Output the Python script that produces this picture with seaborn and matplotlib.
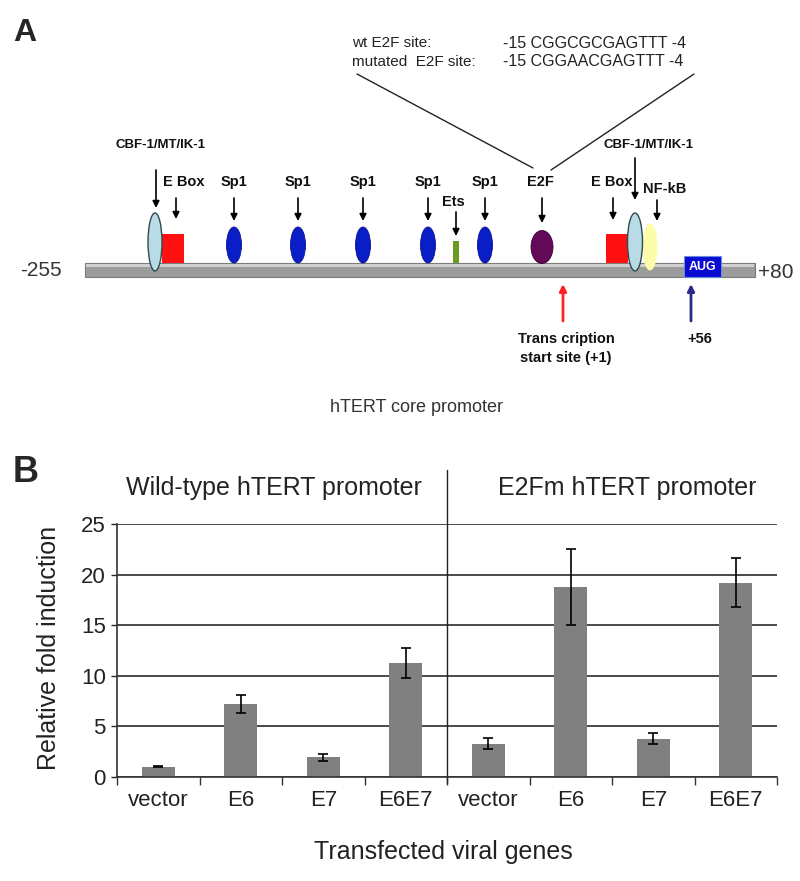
import numpy as np
import pandas as pd
import matplotlib
matplotlib.use("Agg")
import matplotlib.pyplot as plt
import seaborn as sns
from matplotlib.patches import Ellipse, Rectangle

# ---------------- data (panel B) ----------------
group_titles = ["Wild-type hTERT promoter", "E2Fm hTERT promoter"]
genes = ["vector", "E6", "E7", "E6E7"]
wt_values = [1.0, 7.2, 1.95, 11.25]
wt_errors = [0.05, 0.9, 0.35, 1.5]
mut_values = [3.3, 18.8, 3.8, 19.2]
mut_errors = [0.55, 3.75, 0.5, 2.45]
y_ticks = [0, 5, 10, 15, 20, 25]
x_title = "Transfected viral genes"
y_title = "Relative fold induction"

# ---------------- text (panel A) ----------------
e2f_site_labels = ["wt E2F site:", "mutated  E2F site:"]
e2f_site_seqs = ["-15 CGGCGCGAGTTT -4", "-15 CGGAACGAGTTT -4"]
sp1_label = "Sp1"
cbf_label = "CBF-1/MT/IK-1"
ebox_label = "E Box"
promoter_ends = ["-255", "+80"]
promoter_title = "hTERT core promoter"

sns.set_style("ticks")
plt.rcParams["font.family"] = ["Liberation Sans", "DejaVu Sans"]

W, H = 800, 881
fig = plt.figure(figsize=(W / 100, H / 100), dpi=100)

# ======================= Panel A (diagram, pixel layout) =======================
axA = fig.add_axes([0, 431 / H, 1, 450 / H])
axA.set_xlim(0, 800)
axA.set_ylim(450, 0)
axA.axis("off")

axA.text(25, 33, "A", fontsize=23, fontweight="bold", ha="center", va="center")

# E2F site sequences
for i, (lab, seq) in enumerate(zip(e2f_site_labels, e2f_site_seqs)):
    yy = 43 + i * 19
    axA.text(352, yy, lab, fontsize=11, ha="left", va="center", color="#222222")
    axA.text(503, yy, seq, fontsize=11.5, ha="left", va="center", color="#222222")
axA.plot([357, 533], [74, 168], color="#222222", lw=1.0)
axA.plot([694, 551], [74, 170], color="#222222", lw=1.0)

# promoter bar
axA.add_patch(Rectangle((85, 263), 670, 14, fc="#9c9c9c", ec="#7c7c7c", lw=0.8, zorder=1))
axA.add_patch(Rectangle((86, 264), 668, 3, fc="#cfcfcf", lw=0, zorder=1))
axA.text(41, 271, promoter_ends[0], fontsize=15, ha="center", va="center", color="#333333")
axA.text(776, 273, promoter_ends[1], fontsize=15, ha="center", va="center", color="#333333")


def arrow(x, y0, y1, color="black", lw=1.2, ms=10):
    axA.annotate("", xy=(x, y1), xytext=(x, y0),
                 arrowprops=dict(arrowstyle="-|>", color=color, lw=lw,
                                 mutation_scale=ms, shrinkA=0, shrinkB=0))


lab_kw = dict(fontsize=10.5, fontweight="bold", ha="center", va="center", color="#111111")

# left CBF / E box
axA.text(161, 145, cbf_label, **dict(lab_kw, fontsize=9.5))
arrow(156, 170, 208)
axA.text(184, 182, ebox_label, **lab_kw)
arrow(176, 198, 219)
axA.add_patch(Rectangle((162, 234), 22, 29, fc="#ff1010", lw=0, zorder=2))
axA.add_patch(Ellipse((155, 242), 14, 58, fc="#b9dbe6", ec="#2f4a50", lw=1.0, zorder=3))

# Sp1 sites
for x in [234, 298, 363, 428, 485]:
    axA.text(x, 182, sp1_label, **lab_kw)
    arrow(x, 198, 221)
    axA.add_patch(Ellipse((x, 245), 15, 36, fc="#0a1ec8", ec="#0a1490", lw=0.6, zorder=2))

# Ets
axA.text(453, 202, "Ets", **lab_kw)
arrow(456, 212, 236)
axA.add_patch(Rectangle((453, 241), 6, 22, fc="#6a9a22", lw=0, zorder=2))

# E2F
axA.text(540, 182, "E2F", **lab_kw)
arrow(542, 198, 223)
axA.add_patch(Ellipse((542, 247), 22, 33, fc="#620a58", ec="#420040", lw=0.6, zorder=2))

# right E box / CBF / NF-kB
axA.text(612, 182, ebox_label, **lab_kw)
arrow(613, 198, 220)
axA.add_patch(Rectangle((606, 234), 22, 29, fc="#ff1010", lw=0, zorder=2))
axA.text(648, 145, cbf_label, **dict(lab_kw, fontsize=9.5))
arrow(635, 158, 200)
axA.text(665, 189, "NF-kB", **lab_kw)
arrow(657, 200, 221)
axA.add_patch(Ellipse((650, 247), 15, 47, fc="#fdfca8", lw=0, zorder=2))
axA.add_patch(Ellipse((635, 242), 15, 58, fc="#b9dbe6", ec="#2f4a50", lw=1.0, zorder=3))

# AUG
axA.add_patch(Rectangle((684, 256), 37, 21, fc="#0a0ad2", ec="#6a8ae0", lw=0.8, zorder=3))
axA.text(702.5, 266.5, "AUG", fontsize=9, fontweight="bold", color="white",
         ha="center", va="center", zorder=4)

# transcription start / +56
arrow(563, 321, 284, color="#ff2020", lw=2.0, ms=10)
arrow(691, 321, 284, color="#2a2a8a", lw=2.0, ms=10)
axA.text(566, 339, "Trans cription", **lab_kw)
axA.text(566, 358, "start site (+1)", **lab_kw)
axA.text(700, 339, "+56", **lab_kw)

axA.text(416, 407, promoter_title, fontsize=13, ha="center", va="center", color="#333333")

# ======================= Panel B (bar chart) =======================
conds = [f"wt {g}" for g in genes] + [f"mut {g}" for g in genes]
values = wt_values + mut_values
errors = wt_errors + mut_errors
df = pd.DataFrame({"condition": conds, "fold": values, "err": errors})

axB = fig.add_axes([117 / W, (H - 777) / H, 660 / W, 253 / H])
sns.barplot(data=df, x="condition", y="fold", order=conds, color="#808080",
            saturation=1, width=0.4, errorbar=None, linewidth=0, ax=axB)
axB.errorbar(np.arange(len(conds)), df["fold"], yerr=df["err"], fmt="none",
             ecolor="black", elinewidth=1.2, capsize=3.6, capthick=1.2, zorder=4)

axB.set_axisbelow(True)
axB.yaxis.grid(True, color="#3a3a3a", lw=1.3)
axB.set_ylim(0, 25)
axB.set_yticks(y_ticks)
axB.set_xlim(-0.5, len(conds) - 0.5)
axB.set_xticks(np.arange(-0.5, len(conds)), labels=[""] * (len(conds) + 1))
axB.set_xticks(np.arange(len(conds)), labels=genes + genes, minor=True)
axB.tick_params(axis="x", which="major", length=6, width=1.0, color="#333333")
axB.tick_params(axis="x", which="minor", length=0, labelsize=16, pad=9, labelcolor="#222222")
axB.tick_params(axis="y", length=4, width=1.0, labelsize=16, pad=4, labelcolor="#222222")
axB.set_xlabel("")
axB.set_ylabel("")
for s in ["top", "right"]:
    axB.spines[s].set_visible(False)
for s in ["left", "bottom"]:
    axB.spines[s].set_color("#333333")
    axB.spines[s].set_linewidth(1.2)

# divider between promoter groups
axB.axvline(len(genes) - 0.5, ymin=-0.025, ymax=1.215, color="#222222", lw=1.0, clip_on=False)

fig.text(274 / W, 1 - 495 / H, group_titles[0], fontsize=18, ha="center", va="baseline", color="#222222")
fig.text(627 / W, 1 - 495 / H, group_titles[1], fontsize=18, ha="center", va="baseline", color="#222222")
fig.text(49 / W, 1 - 648 / H, y_title, fontsize=18, rotation=90, ha="center", va="center", color="#222222")
fig.text(443 / W, 1 - 852 / H, x_title, fontsize=18, ha="center", va="center", color="#222222")
fig.text(26 / W, 1 - 472 / H, "B", fontsize=26, fontweight="bold", ha="center", va="center")

fig.savefig("out.png", dpi=100)
